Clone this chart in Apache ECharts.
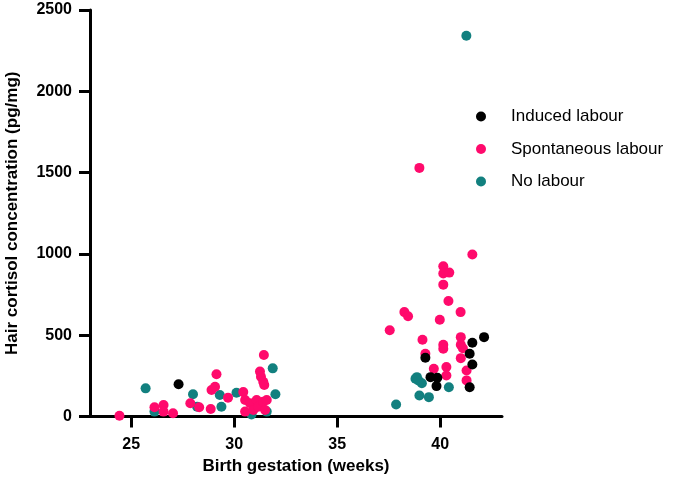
<!DOCTYPE html>
<html>
<head>
<meta charset="utf-8">
<script src="https://cdn.jsdelivr.net/npm/echarts@6/dist/echarts.min.js"></script>
<style>html,body{margin:0;padding:0;background:#fff}#c{width:683px;height:477px}</style>
</head>
<body>
<div id="c"></div>
<script>
const seriesNames = ['Induced labour', 'Spontaneous labour', 'No labour'];
const seriesColors = ['#000000', '#FF0A6C', '#12807F'];
const xTicks = [25, 30, 35, 40];

const induced = [
  [27.3, 198], [39.28, 361], [39.53, 242], [39.86, 238], [39.82, 187],
  [41.43, 180], [41.43, 386], [41.56, 454], [41.56, 320], [42.13, 488]
];
const spontaneous = [
  [24.43, 5], [26.13, 57], [26.57, 71], [26.57, 30], [27.03, 20], [27.87, 81],
  [28.3, 57], [28.86, 46], [28.9, 163], [29.07, 183], [29.14, 260], [29.7, 116],
  [30.44, 150], [30.53, 101], [30.53, 30], [30.77, 81], [30.93, 40], [31.09, 101],
  [31.17, 60], [31.41, 91], [31.5, 40], [31.58, 101], [31.25, 276], [31.3, 245],
  [31.41, 214], [31.46, 194], [31.44, 378],
  [37.55, 530], [38.26, 642], [38.44, 616], [38.99, 1529], [39.14, 472], [39.28, 386],
  [39.69, 294], [39.98, 595], [40.15, 924], [40.15, 879], [40.44, 885], [40.15, 811],
  [40.4, 710], [40.15, 441], [40.15, 417], [40.3, 304], [40.3, 252], [40.99, 642],
  [41.0, 488], [41.0, 441], [41.1, 420], [41.0, 359], [41.28, 283], [41.28, 222],
  [41.56, 996]
];
const noLabour = [
  [25.70, 173], [26.13, 30], [28.0, 137], [28.2, 60], [29.3, 132], [29.38, 60],
  [30.11, 146], [30.84, 12], [31.58, 30], [31.87, 296], [32.0, 137],
  [37.86, 74], [38.8, 232], [38.87, 242], [38.94, 222], [39.11, 205], [38.99, 129],
  [39.45, 119], [40.42, 180], [41.27, 2342]
];

const FONT = 'Arial, "Liberation Sans", Helvetica, sans-serif';
const chart = echarts.init(document.getElementById('c'), null, {renderer: 'canvas'});
const dataSets = [induced, spontaneous, noLabour];
const zs = [3, 2, 1];

chart.setOption({
  animation: false,
  backgroundColor: '#ffffff',
  grid: {left: 90, right: 181, top: 10, bottom: 60.5, containLabel: false, outerBoundsMode: 'none'},
  legend: {
    orient: 'vertical',
    left: 476, top: 106.5,
    padding: 0,
    itemWidth: 50, itemHeight: 10,
    itemGap: 12.5,
    icon: 'circle',
    data: seriesNames,
    textStyle: {fontFamily: FONT, fontSize: 17, color: '#000', lineHeight: 20}
  },
  xAxis: {
    type: 'value', min: 23, max: 43,
    name: 'Birth gestation (weeks)',
    nameLocation: 'middle', nameGap: 38,
    nameTextStyle: {fontFamily: FONT, fontSize: 17, fontWeight: 'bold', color: '#000'},
    axisLine: {show: true, onZero: false, lineStyle: {color: '#000', width: 3}},
    axisTick: {show: true, length: 11, lineStyle: {color: '#000', width: 3}, customValues: xTicks},
    axisLabel: {fontFamily: FONT, fontSize: 16, fontWeight: 'bold', color: '#000', margin: 20, customValues: xTicks},
    splitLine: {show: false}
  },
  yAxis: {
    type: 'value', min: 0, max: 2500, interval: 500,
    name: 'Hair cortisol concentration (pg/mg)',
    nameLocation: 'middle', nameGap: 69,
    nameTextStyle: {fontFamily: FONT, fontSize: 17, fontWeight: 'bold', color: '#000'},
    axisLine: {show: true, lineStyle: {color: '#000', width: 3}},
    axisTick: {show: true, length: 11, lineStyle: {color: '#000', width: 3}},
    axisLabel: {fontFamily: FONT, fontSize: 16, fontWeight: 'bold', color: '#000', margin: 18,
      formatter: v => String(v)},
    splitLine: {show: false}
  },
  series: seriesNames.map((n, i) => ({
    name: n, type: 'scatter', data: dataSets[i], symbol: 'circle', symbolSize: 10,
    z: zs[i],
    itemStyle: {color: seriesColors[i], opacity: 1},
    emphasis: {disabled: true}
  }))
});
</script>
</body>
</html>
